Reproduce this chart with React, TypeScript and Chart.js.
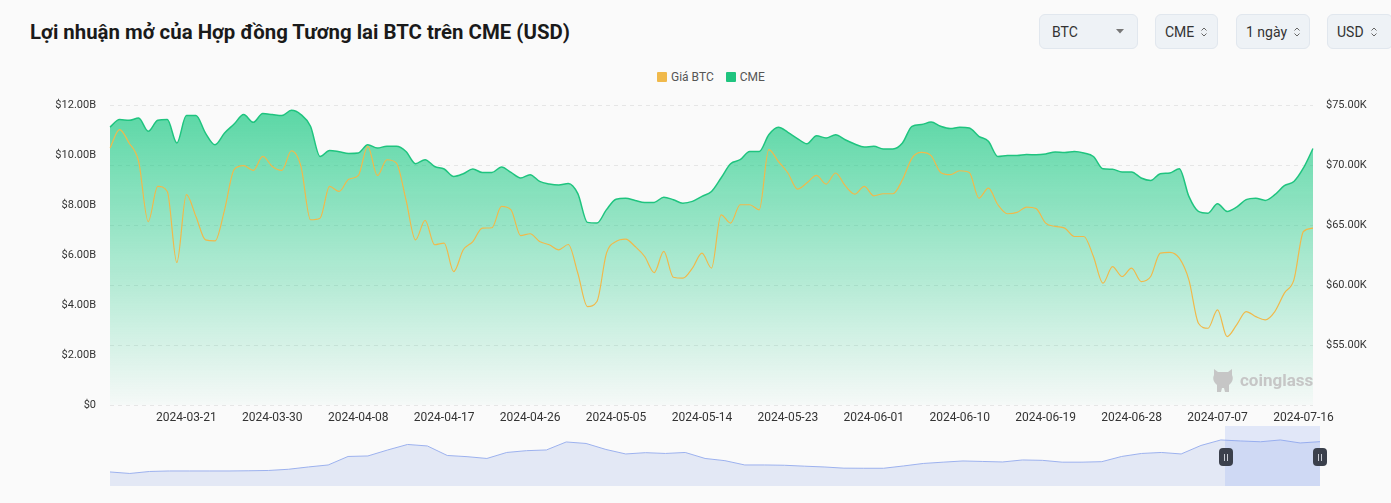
import React, { useEffect, useRef } from "react";
import { Chart, registerables } from "chart.js";

Chart.register(...registerables);

// ---------- data ----------
const startDate = "2024-03-13";
const dayCount = 127;

const xTickLabels = [
  "2024-03-21", "2024-03-30", "2024-04-08", "2024-04-17", "2024-04-26",
  "2024-05-05", "2024-05-14", "2024-05-23", "2024-06-01", "2024-06-10",
  "2024-06-19", "2024-06-28", "2024-07-07", "2024-07-16",
];

// CME BTC futures open interest, billions USD (daily)
const cmeOpenInterestB = [
  11.14, 11.44, 11.41, 11.5, 10.97, 11.41, 11.44, 10.5, 11.6, 11.6,
  10.9, 10.43, 10.9, 11.26, 11.64, 11.33, 11.68, 11.64, 11.6, 11.81,
  11.64, 11.17, 9.96, 10.2, 10.15, 10.08, 10.1, 10.43, 10.3, 10.37,
  10.37, 10.16, 9.67, 9.83, 9.56, 9.46, 9.16, 9.27, 9.46, 9.32,
  9.32, 9.54, 9.32, 9.1, 9.23, 8.96, 8.86, 8.82, 8.88, 8.47,
  7.32, 7.29, 7.83, 8.25, 8.29, 8.2, 8.12, 8.12, 8.33, 8.23,
  8.09, 8.16, 8.36, 8.56, 9.1, 9.67, 9.83, 10.16, 10.16, 10.83,
  11.13, 10.93, 10.68, 10.47, 10.79, 10.7, 10.83, 10.63, 10.46, 10.34,
  10.37, 10.26, 10.26, 10.5, 11.17, 11.24, 11.34, 11.17, 11.08, 11.13,
  11.1, 10.77, 10.57, 9.96, 10.0, 10.0, 10.04, 10.03, 10.06, 10.14,
  10.12, 10.16, 10.1, 9.96, 9.47, 9.45, 9.34, 9.34, 9.1, 9.0,
  9.27, 9.3, 9.47, 8.36, 7.76, 7.69, 8.07, 7.76, 7.93, 8.23,
  8.29, 8.2, 8.43, 8.79, 8.96, 9.5, 10.28,
];

// BTC price, thousands USD (daily)
const btcPriceK = [
  71.46, 72.99, 71.88, 70.34, 65.32, 68.25, 67.83, 61.9, 67.56, 65.74,
  63.79, 63.7, 66.3, 69.65, 69.98, 69.59, 70.76, 69.92, 69.59, 71.23,
  69.92, 65.47, 65.6, 68.25, 67.83, 68.85, 69.15, 71.6, 69.15, 70.48,
  70.2, 67.14, 63.79, 65.41, 63.38, 63.52, 61.14, 62.96, 63.65, 64.77,
  64.8, 66.58, 66.3, 64.15, 64.3, 63.65, 63.38, 62.96, 63.4, 61.0,
  58.22, 58.64, 62.68, 63.65, 63.85, 63.23, 62.4, 61.06, 62.82, 60.67,
  60.59, 61.43, 62.68, 61.43, 65.88, 65.19, 66.72, 66.72, 66.3, 71.32,
  70.34, 69.37, 68.03, 68.55, 69.17, 68.45, 69.37, 68.31, 67.61, 68.25,
  67.47, 67.64, 67.64, 68.81, 70.62, 71.09, 70.82, 69.42, 69.23, 69.56,
  69.42, 67.28, 68.11, 66.72, 65.97, 66.08, 66.53, 66.4, 65.19, 64.91,
  64.77, 64.07, 64.07, 62.4, 60.17, 61.56, 60.73, 61.43, 60.31, 60.73,
  62.68, 62.75, 62.26, 60.45, 56.83, 56.41, 57.94, 55.71, 56.69, 57.8,
  57.38, 57.11, 57.8, 59.34, 60.45, 64.49, 64.77,
];

// Long-history open interest shown in the zoom slider, billions USD
const sliderOpenInterestB = [
  2.87, 2.51, 2.99, 3.11, 3.11, 3.11, 3.11, 3.16, 3.23, 3.52,
  4.07, 4.55, 6.59, 6.71, 8.15, 9.47, 9.11, 6.83, 6.54, 6.11,
  7.55, 7.98, 8.15, 10.07, 9.71, 8.27, 7.19, 7.5, 7.31, 7.55,
  6.11, 5.58, 4.55, 4.55, 4.48, 4.26, 4.07, 3.78, 3.76, 3.76,
  4.31, 4.91, 5.22, 5.51, 5.39, 5.27, 5.75, 5.66, 5.22, 5.22,
  5.34, 6.59, 7.31, 7.55, 7.19, 9.23, 10.55, 10.31, 10.12, 10.55,
  9.83, 10.14,
];

const leftAxisMin = 0;
const leftAxisMax = 12;
const leftAxisStep = 2;
const rightAxisMin = 50;
const rightAxisMax = 75;
const rightAxisStep = 5;

const legendItems = [
  { label: "Giá BTC", color: "#f0b94b" },
  { label: "CME", color: "#1fc47f" },
];

const selectors = [
  { label: "BTC", kind: "dropdown", left: 1039, width: 99 },
  { label: "CME", kind: "updown", left: 1155, width: 63 },
  { label: "1 ngày", kind: "updown", left: 1236, width: 74 },
  { label: "USD", kind: "updown", left: 1327, width: 66 },
];

function buildDates(start: string, n: number): string[] {
  const out: string[] = [];
  const d0 = new Date(start + "T00:00:00Z");
  for (let i = 0; i < n; i++) {
    const d = new Date(d0.getTime() + i * 86400000);
    out.push(d.toISOString().slice(0, 10));
  }
  return out;
}

const dates = buildDates(startDate, dayCount);
const sliderLabels = sliderOpenInterestB.map((_, i) => String(i));

const FONT = "Roboto, 'Noto Sans', sans-serif";

function UpDownIcon() {
  return (
    <svg width="8" height="12" viewBox="0 0 8 12" style={{ marginLeft: 6 }}>
      <path d="M1.5 4.5 L4 2 L6.5 4.5" fill="none" stroke="#666" strokeWidth="1" />
      <path d="M1.5 7.5 L4 10 L6.5 7.5" fill="none" stroke="#666" strokeWidth="1" />
    </svg>
  );
}

export default function App() {
  const mainRef = useRef<HTMLCanvasElement | null>(null);
  const sliderRef = useRef<HTMLCanvasElement | null>(null);

  useEffect(() => {
    document.body.style.margin = "0";
    const mainCanvas = mainRef.current!;
    const sliderCanvas = sliderRef.current!;

    const main = new Chart(mainCanvas, {
      type: "line",
      data: {
        labels: dates,
        datasets: [
          {
            label: "Giá BTC",
            data: btcPriceK,
            yAxisID: "yR",
            borderColor: "#f0b94b",
            borderWidth: 1.2,
            pointRadius: 0,
            cubicInterpolationMode: "monotone",
            fill: false,
            order: 0,
          },
          {
            label: "CME",
            data: cmeOpenInterestB,
            yAxisID: "yL",
            borderColor: "#1fc47f",
            borderWidth: 1.5,
            pointRadius: 0,
            cubicInterpolationMode: "monotone",
            fill: "origin",
            order: 1,
            backgroundColor: (ctx: any) => {
              const area = ctx.chart.chartArea;
              if (!area) return "rgba(20,200,128,0.4)";
              const g = ctx.chart.ctx.createLinearGradient(0, area.top, 0, area.bottom);
              g.addColorStop(0, "rgba(20,200,128,0.70)");
              g.addColorStop(1, "rgba(20,200,128,0.02)");
              return g;
            },
          },
        ],
      },
      options: {
        responsive: false,
        animation: false,
        layout: { padding: 0 },
        plugins: { legend: { display: false }, tooltip: { enabled: false } },
        scales: {
          x: {
            type: "category",
            grid: { display: false, drawTicks: false },
            border: { display: false },
            afterFit: (s: any) => {
              s.height = 30;
            },
            ticks: {
              autoSkip: false,
              maxRotation: 0,
              minRotation: 0,
              padding: 6,
              color: "#333",
              font: { family: FONT, size: 12 },
              callback: (_v: any, i: number) =>
                xTickLabels.includes(dates[i]) ? dates[i] : null,
            },
          },
          yL: {
            type: "linear",
            position: "left",
            min: leftAxisMin,
            max: leftAxisMax,
            afterFit: (s: any) => {
              s.width = 110;
            },
            grid: { display: false, drawTicks: false },
            border: { display: false },
            ticks: {
              stepSize: leftAxisStep,
              padding: 14,
              color: "#333",
              font: { family: FONT, size: 11 },
              callback: (v: any) => (v === 0 ? "$0" : `$${Number(v).toFixed(2)}B`),
            },
          },
          yR: {
            type: "linear",
            position: "right",
            min: rightAxisMin,
            max: rightAxisMax,
            afterFit: (s: any) => {
              s.width = 78;
            },
            grid: { color: "#e6e6e6", lineWidth: 1, drawTicks: false },
            border: { display: false, dash: [4, 4] },
            ticks: {
              stepSize: rightAxisStep,
              padding: 13,
              color: "#333",
              font: { family: FONT, size: 11 },
              callback: (v: any) => (v === rightAxisMin ? "" : `$${Number(v).toFixed(2)}K`),
            },
          },
        },
      },
    } as any);

    const slider = new Chart(sliderCanvas, {
      type: "line",
      data: {
        labels: sliderLabels,
        datasets: [
          {
            data: sliderOpenInterestB,
            borderColor: "#9cb1ee",
            borderWidth: 1,
            pointRadius: 0,
            tension: 0,
            fill: "start",
            backgroundColor: "#e3e8f5",
          },
        ],
      },
      options: {
        responsive: false,
        animation: false,
        layout: { padding: 0 },
        plugins: { legend: { display: false }, tooltip: { enabled: false } },
        scales: {
          x: { display: false },
          y: { display: false, min: -0.5, max: 13.9 },
        },
      },
    } as any);

    return () => {
      main.destroy();
      slider.destroy();
    };
  }, []);

  return (
    <div
      style={{
        position: "absolute",
        left: 0,
        top: 0,
        width: 1391,
        height: 503,
        background: "#fafafa",
        fontFamily: FONT,
        overflow: "hidden",
      }}
    >
      <div
        style={{
          position: "absolute",
          left: 30,
          top: 19,
          fontSize: 20.4,
          fontWeight: 700,
          color: "#1a1a1a",
          lineHeight: "26px",
          whiteSpace: "nowrap",
        }}
      >
        Lợi nhuận mở của Hợp đồng Tương lai BTC trên CME (USD)
      </div>

      {selectors.map((s) => (
        <div
          key={s.label}
          style={{
            position: "absolute",
            left: s.left,
            top: 14,
            width: s.width,
            height: 35,
            boxSizing: "border-box",
            background: "#eef2f6",
            border: "1px solid #e1e7ee",
            borderRadius: 6,
            display: "flex",
            alignItems: "center",
            justifyContent: s.kind === "dropdown" ? "space-between" : "flex-start",
            padding: s.kind === "dropdown" ? "0 13px 0 12px" : "0 0 0 9px",
            fontSize: 14,
            color: "#333",
          }}
        >
          <span>{s.label}</span>
          {s.kind === "dropdown" ? (
            <svg width="8" height="5" viewBox="0 0 8 5">
              <path d="M0 0 L8 0 L4 4.5 Z" fill="#777" />
            </svg>
          ) : (
            <UpDownIcon />
          )}
        </div>
      ))}

      <div
        style={{
          position: "absolute",
          left: 657,
          top: 70,
          display: "flex",
          alignItems: "center",
          fontSize: 12,
          color: "#555",
          lineHeight: "14px",
        }}
      >
        {legendItems.map((it, i) => (
          <div key={it.label} style={{ display: "flex", alignItems: "center", marginRight: i === 0 ? 12 : 0 }}>
            <span
              style={{
                display: "inline-block",
                width: 10,
                height: 10,
                background: it.color,
                marginRight: 4,
                borderRadius: 1,
              }}
            />
            <span>{it.label}</span>
          </div>
        ))}
      </div>

      <canvas
        ref={mainRef}
        width={1391}
        height={350}
        style={{ position: "absolute", left: 0, top: 85, width: 1391, height: 350 }}
      />

      {/* watermark */}
      <div
        style={{
          position: "absolute",
          left: 1211,
          top: 367,
          display: "flex",
          alignItems: "center",
          color: "#c6c6c6",
          fontSize: 17,
          fontWeight: 700,
        }}
      >
        <svg width="24" height="26" viewBox="0 0 24 26" style={{ marginRight: 5 }}>
          <path
            d="M3 2 L7 5 L17 5 L21 2 L21 8 Q23 12 20 16 L18 18 L18 25 L14 25 L13 21 L11 21 L10 25 L6 25 L6 18 L4 16 Q1 12 3 8 Z"
            fill="#c6c6c6"
          />
        </svg>
        <span>coinglass</span>
      </div>

      {/* zoom slider */}
      <canvas
        ref={sliderRef}
        width={1210}
        height={60}
        style={{ position: "absolute", left: 110, top: 426, width: 1210, height: 60 }}
      />
      <div
        style={{
          position: "absolute",
          left: 1225,
          top: 426,
          width: 95,
          height: 60,
          background: "rgba(135,165,240,0.22)",
        }}
      />
      {[1219, 1313].map((x) => (
        <div
          key={x}
          style={{
            position: "absolute",
            left: x,
            top: 448,
            width: 14,
            height: 18,
            background: "#3b404c",
            borderRadius: 4,
            display: "flex",
            alignItems: "center",
            justifyContent: "center",
            gap: 2,
          }}
        >
          <span style={{ width: 1, height: 7, background: "#c9ccd4", display: "block" }} />
          <span style={{ width: 1, height: 7, background: "#c9ccd4", display: "block" }} />
        </div>
      ))}
    </div>
  );
}
